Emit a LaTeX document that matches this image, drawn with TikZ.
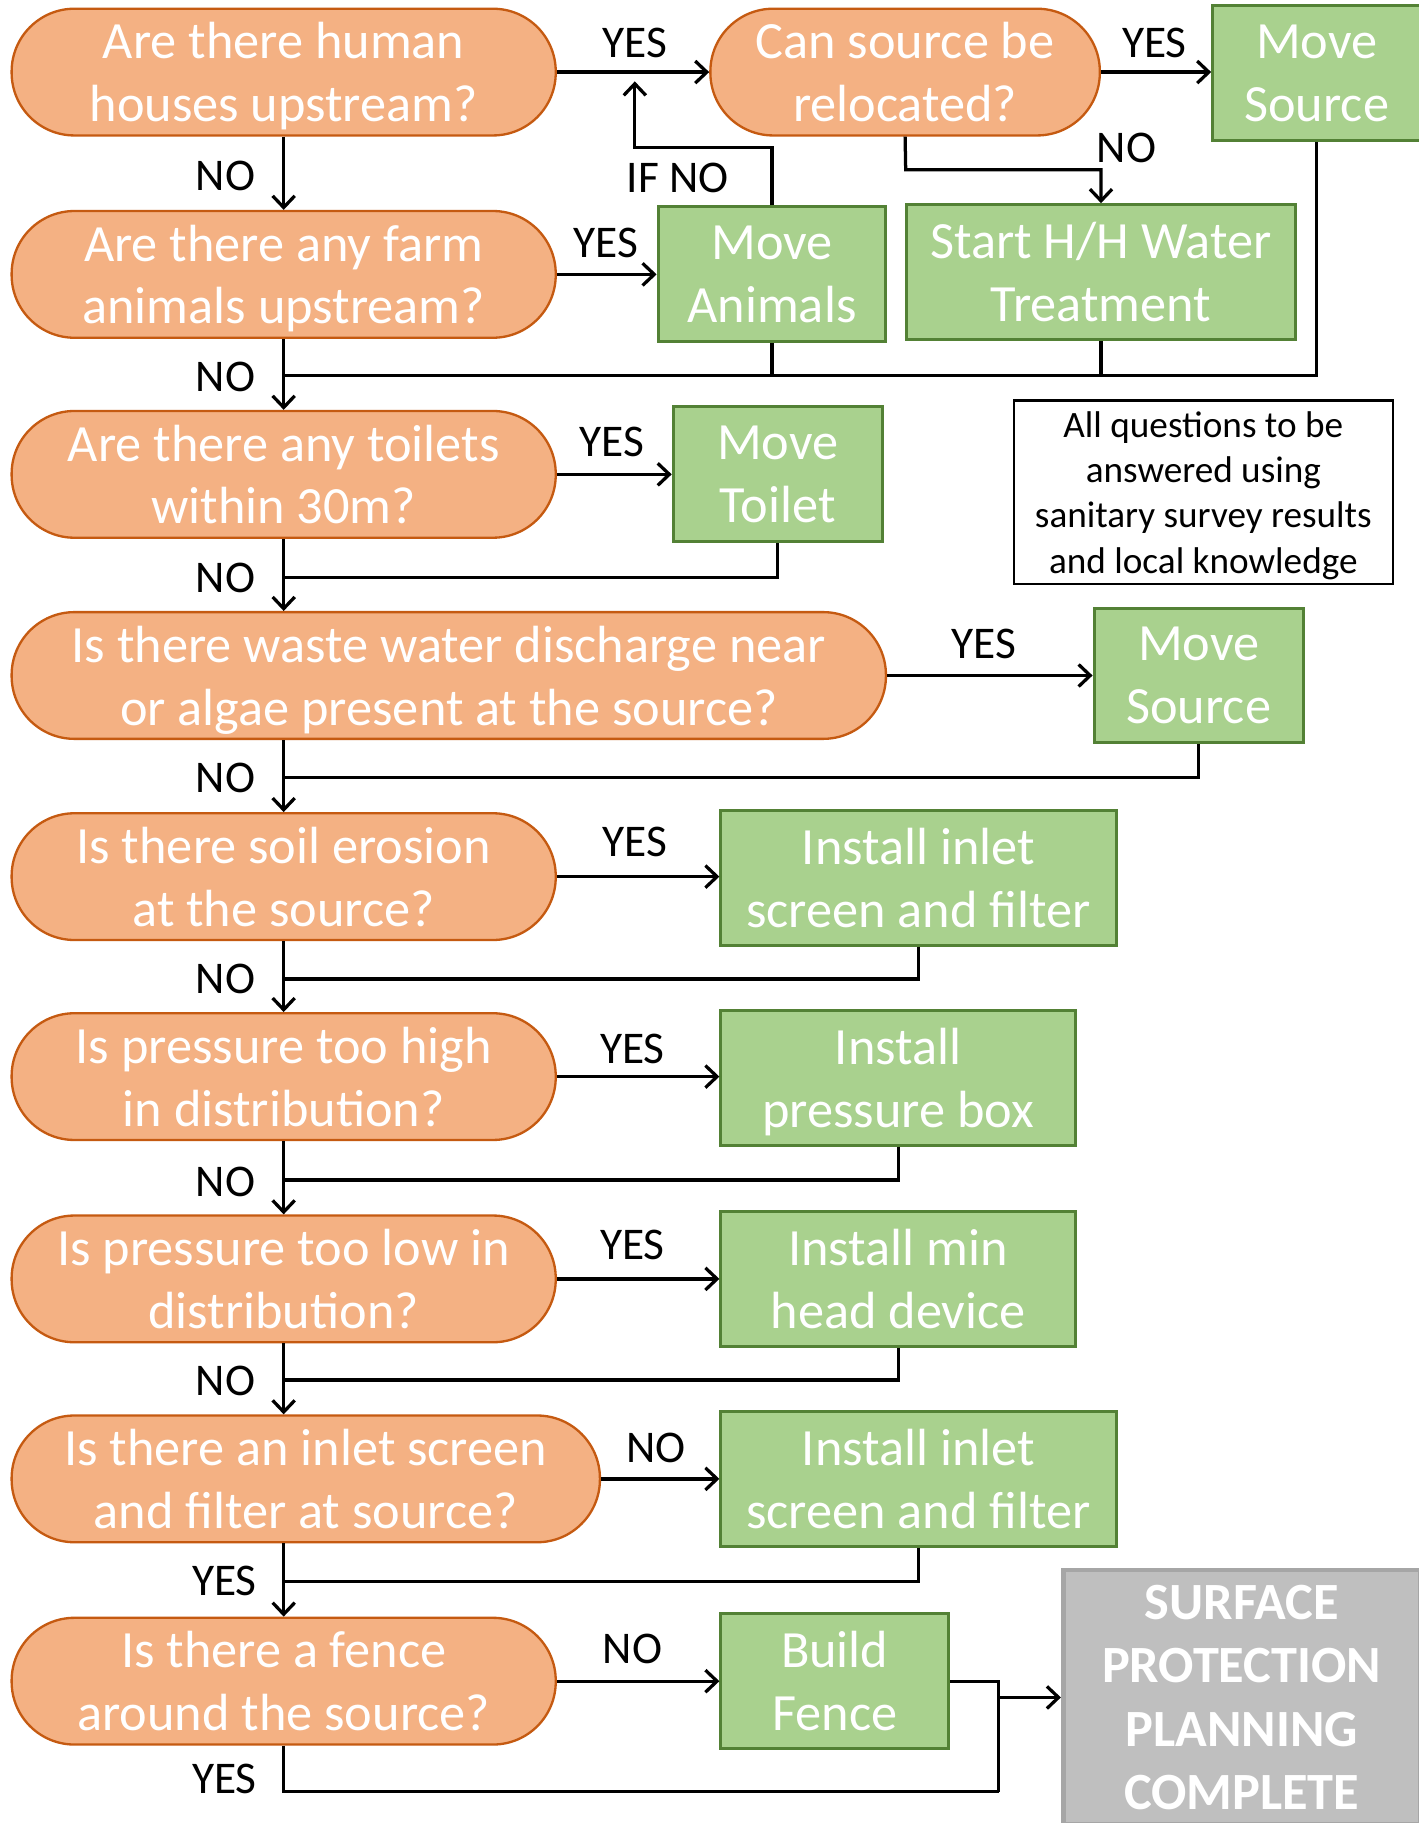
\documentclass[tikz,border=0pt]{standalone}
\usepackage{fontspec}
\setmainfont{Carlito}
\usetikzlibrary{arrows.meta}
\definecolor{qfill}{HTML}{F4B183}
\definecolor{qdraw}{HTML}{C55A11}
\definecolor{afill}{HTML}{A9D18E}
\definecolor{adraw}{HTML}{538135}
\definecolor{gfill}{HTML}{BFBFBF}
\definecolor{gdraw}{HTML}{A6A6A6}
\begin{document}
\begin{tikzpicture}[x=1pt,y=-1pt,
 q/.style={draw=qdraw,fill=qfill,line width=2pt,rounded corners=54pt,minimum height=109pt,inner sep=0pt,text depth=0pt,text=white,align=center,font=\fontsize{45}{54}\selectfont},
 act/.style={draw=adraw,fill=afill,line width=2.5pt,minimum height=116pt,inner sep=0pt,text depth=0pt,text=white,align=center,font=\fontsize{45}{54}\selectfont},
 lbl/.style={inner sep=0pt,font=\fontsize{39}{46}\selectfont},
 conn/.style={line width=2.8pt},
 arr/.style={conn,-{Straight Barb[length=10pt,width=19pt]}}
]
\useasboundingbox (0,0) rectangle (1220,1568);
\fill[white] (0,0) rectangle (1220,1568);
% questions
\node[q,minimum width=468pt] (q1) at (244,62) {Are there human\\houses upstream?};
\node[q,minimum width=335pt] (can) at (778.5,62) {Can source be\\relocated?};
\node[act,minimum width=179pt] (ms1) at (1132.5,63) {Move\\Source};
\node[q,minimum width=468pt] (q2) at (244,236) {Are there any farm\\animals upstream?};
\node[act,minimum width=196pt] (ma) at (664,236) {Move\\Animals};
\node[act,minimum width=334pt] (hh) at (947,234) {Start H/H Water\\Treatment};
\node[q,minimum width=468pt] (q3) at (244,408) {Are there any toilets\\within 30m?};
\node[act,minimum width=180pt] (mt) at (669,408) {Move\\Toilet};
\node[draw=black,line width=2pt,minimum width=326pt,minimum height=158pt,inner sep=0pt,text depth=0pt,align=center,font=\fontsize{32}{39}\selectfont] (note) at (1035,423.5) {All questions to be\\answered using\\sanitary survey results\\and local knowledge};
\node[q,minimum width=752pt] (q4) at (386,581) {Is there waste water discharge near\\or algae present at the source?};
\node[act,minimum width=180pt] (ms2) at (1031,581) {Move\\Source};
\node[q,minimum width=468pt] (q5) at (244,754) {Is there soil erosion\\at the source?};
\node[act,minimum width=340pt] (in1) at (790,755) {Install inlet\\screen and filter};
\node[q,minimum width=468pt] (q6) at (244,926) {Is pressure too high\\in distribution?};
\node[act,minimum width=305pt] (pb) at (772.5,927) {Install\\pressure box};
\node[q,minimum width=468pt] (q7) at (244,1100) {Is pressure too low in\\distribution?};
\node[act,minimum width=305pt] (mh) at (772.5,1100) {Install min\\head device};
\node[q,minimum width=506pt] (q8) at (263,1272) {Is there an inlet screen\\and filter at source?};
\node[act,minimum width=340pt] (in2) at (790,1272) {Install inlet\\screen and filter};
\node[q,minimum width=468pt] (q9) at (244,1446) {Is there a fence\\around the source?};
\node[act,minimum width=196pt] (bf) at (718,1446) {Build\\Fence};
\node[draw=gdraw,fill=gfill,line width=4pt,minimum width=307pt,minimum height=219pt,inner sep=0pt,text=white,align=center,font=\bfseries\fontsize{45}{54.5}\selectfont] (sp) at (1068,1460) {SURFACE\\PROTECTION\\PLANNING\\COMPLETE};
% labels
\node[lbl] (l1) at (546,37) {YES};
\node[lbl] (l2) at (993,37) {YES};
\node[lbl] (l3) at (969,127) {NO};
\node[lbl] (l4) at (583,153) {IF NO};
\node[lbl] (l5) at (194,151) {NO};
\node[lbl] (l6) at (521,209) {YES};
\node[lbl] (l7) at (194,324) {NO};
\node[lbl] (l8) at (526,380) {YES};
\node[lbl] (l9) at (194,497) {NO};
\node[lbl] (l10) at (846,554) {YES};
\node[lbl] (l11) at (194,669) {NO};
\node[lbl] (l12) at (546,724) {YES};
\node[lbl] (l13) at (194,842) {NO};
\node[lbl] (l14) at (544,902) {YES};
\node[lbl] (l15) at (194,1017) {NO};
\node[lbl] (l16) at (544,1071) {YES};
\node[lbl] (l17) at (194,1188) {NO};
\node[lbl] (l18) at (564,1245) {NO};
\node[lbl] (l19) at (193,1360) {YES};
\node[lbl] (l20) at (544,1418) {NO};
\node[lbl] (l21) at (193,1530) {YES};
% coordinates
\coordinate (c1) at (779,146);
\coordinate (c2) at (546,127);
\coordinate (c3) at (546,70);
\coordinate (j2) at (244,323);
\coordinate (j3) at (244,497);
\coordinate (j4) at (244,669);
\coordinate (j5) at (244,842);
\coordinate (j6) at (244,1015);
\coordinate (j7) at (244,1187);
\coordinate (j8) at (244,1360);
\coordinate (k1) at (859,1541);
% connectors
\draw[arr] (q1.east) -- (can.west);
\draw[arr] (can.east) -- (can.east -| ms1.west);
\draw[arr] (can.south) -- (c1) -| (hh.north);
\draw[arr] (ma.north) |- (c2) -- (c3);
\draw[arr] (q1.south) -- (q2.north);
\draw[arr] (q2.east) -- (ma.west);
\draw[arr] (q2.south) -- (q3.north);
\draw[conn] (ms1.south) |- (j2);
\draw[conn] (ma.south) -- (ma.south |- j2);
\draw[conn] (hh.south) -- (hh.south |- j2);
\draw[arr] (q3.east) -- (mt.west);
\draw[arr] (q3.south) -- (q4.north -| q3.south);
\draw[conn] (mt.south) |- (j3);
\draw[arr] (q4.east) -- (ms2.west);
\draw[arr] (q4.south -| q5.north) -- (q5.north);
\draw[conn] (ms2.south) |- (j4);
\draw[arr] (q5.east) -- (q5.east -| in1.west);
\draw[arr] (q5.south) -- (q6.north);
\draw[conn] (in1.south) |- (j5);
\draw[arr] (q6.east) -- (q6.east -| pb.west);
\draw[arr] (q6.south) -- (q7.north);
\draw[conn] (pb.south) |- (j6);
\draw[arr] (q7.east) -- (mh.west);
\draw[arr] (q7.south) -- (q8.north -| q7.south);
\draw[conn] (mh.south) |- (j7);
\draw[arr] (q8.east) -- (in2.west);
\draw[arr] (q9.north |- q8.south) -- (q9.north);
\draw[conn] (in2.south) |- (j8);
\draw[arr] (q9.east) -- (bf.west);
\draw[conn] (bf.east) -| (k1);
\draw[conn] (q9.south) |- (k1);
\draw[arr] (sp.west -| k1) -- (sp.west);
\end{tikzpicture}
\end{document}
